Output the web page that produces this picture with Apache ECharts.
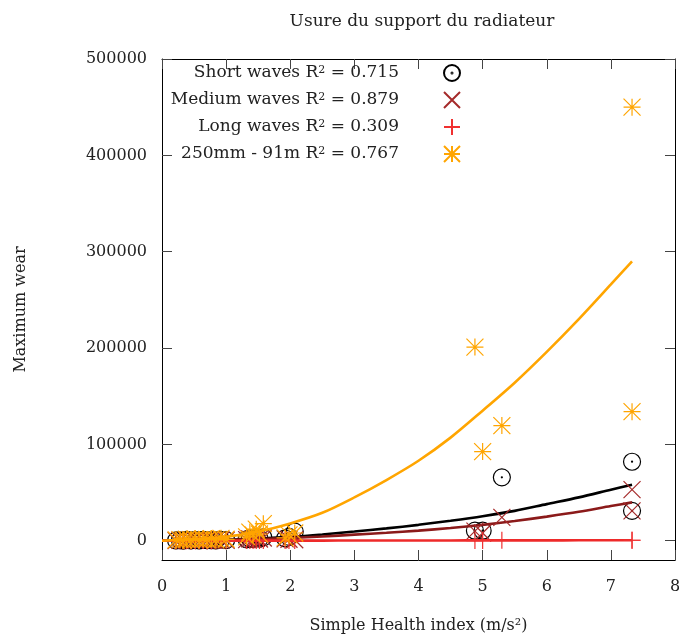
<!DOCTYPE html>
<html><head><meta charset="utf-8">
<script src="https://cdn.jsdelivr.net/npm/echarts@6/dist/echarts.min.js"></script>
<style>html,body{margin:0;padding:0;background:#fff}#c{width:679px;height:635px}</style>
</head><body><div id="c"></div>
<script>
// ---- data ----
const titleText = 'Usure du support du radiateur';
const xName = 'Simple Health index (m/s\u00b2)';
const yName = 'Maximum wear';
const seriesNames = ['Short waves', 'Medium waves', 'Long waves', '250mm - 91m'];
const rSquared = ['0.715', '0.879', '0.309', '0.767'];

const pointX = [0.22,0.28,0.33,0.38,0.45,0.52,0.58,0.64,0.70,0.77,0.84,0.92,1.00,
                1.32,1.37,1.42,1.47,1.52,1.58,1.92,1.98,2.07,4.88,5.00,5.30,7.33,7.33];
const shortY  = [300,500,200,800,400,600,300,900,500,700,400,1000,600,
                 1500,2500,1800,3000,2200,3500,2500,4000,9500,10400,10400,65800,82000,31000];
const mediumY = [200,400,150,600,300,500,250,700,400,600,300,800,500,
                 1200,2000,1500,2500,1800,2800,2000,1500,1000,10000,8000,24200,53000,31000];
const longY   = [50,80,40,100,60,90,50,120,70,100,60,130,80,
                 150,200,180,250,200,300,200,250,300,200,300,500,500,500];
const mixY    = [800,1200,600,1500,1000,2000,900,1800,1300,2200,1000,2500,1500,
                 4000,9000,6000,12000,7000,17700,3000,6000,8000,201000,92500,119500,450000,134000];

const fitX      = [0,0.5,1,1.5,2,2.5,3,3.5,4,4.5,5,5.5,6,6.5,7,7.33];
const shortFit  = [0,400,1000,2300,4000,6500,9500,12800,16500,20800,25500,31000,38000,45000,53000,58200];
const mediumFit = [0,300,700,1600,2800,4400,6300,8300,10500,13200,16500,20500,25000,30000,36000,39800];
const longFit   = [0,0,50,100,100,150,200,200,250,300,350,400,400,450,500,500];
const mixFit    = [0,1500,4000,9500,18000,29000,45000,63000,83000,107000,135000,164000,196000,230000,266000,290000];

const xTicks = [0,1,2,3,4,5,6,7,8];
const yTicks = [0,100000,200000,300000,400000,500000];
const xMin = 0, xMax = 8;
const yMin = -20000, yMax = 500000;

// ---- styling ----
const FONT = 'DejaVu Serif';
const pts = (ys) => pointX.map((x, i) => [x, ys[i]]);
const fit = (ys) => fitX.map((x, i) => [x, ys[i]]);
const SYM = {
  circle: 'path://M9,1A8,8,0,1,1,9,17A8,8,0,1,1,9,1ZM9,8.5A0.5,0.5,0,1,1,9,9.5A0.5,0.5,0,1,1,9,8.5Z',
  cross: 'path://M0,0L10,10M10,0L0,10',
  plus: 'path://M5,0L5,10M0,5L10,5',
  star: 'path://M5,0L5,10M0,5L10,5M0,0L10,10M10,0L0,10'
};
const colors = ['#000000', '#a52a2a', '#f03030', '#ffa500'];
const lineColors = ['#000000', '#8b1a1a', '#ee2a2a', '#ffa500'];
const symbols = [SYM.circle, SYM.cross, SYM.plus, SYM.star];
const pointData = [shortY, mediumY, longY, mixY];
const fitData = [shortFit, mediumFit, longFit, mixFit];

const series = [];
seriesNames.forEach((name, k) => {
  series.push({
    name: name, type: 'scatter', data: pts(pointData[k]),
    symbol: symbols[k], symbolSize: 17,
    itemStyle: { color: 'transparent', borderColor: colors[k], borderWidth: 1.2, opacity: 1 },
    emphasis: { disabled: true }, z: 2 + k
  });
  series.push({
    name: name + ' fit', type: 'line', data: fit(fitData[k]),
    showSymbol: false, smooth: 0.3,
    lineStyle: { color: lineColors[k], width: 2.6 },
    emphasis: { disabled: true }, z: 2 + k
  });
});

const tickText = { fontFamily: FONT, fontSize: 16, color: '#222' };
const nameText = { fontFamily: FONT, fontSize: 16, color: '#222' };
const bigText = { fontFamily: FONT, fontSize: 17, color: '#222' };
const tickStyle = (vals) => ({ inside: true, length: 10, customValues: vals, lineStyle: { color: '#444', width: 1 } });
const frameLine = { show: true, onZero: false, lineStyle: { color: '#000', width: 1 } };
const plain = (v) => String(v);

const chart = echarts.init(document.getElementById('c'), null, { renderer: 'canvas' });
chart.setOption({
  animation: false,
  backgroundColor: '#fff',
  title: {
    text: titleText, left: 417, top: 8, textAlign: 'center',
    textStyle: Object.assign({ fontWeight: 'normal' }, bigText)
  },
  grid: { left: 162, right: 4, top: 59, bottom: 75, containLabel: false, outerBoundsMode: 'none' },
  legend: {
    data: seriesNames, orient: 'vertical', align: 'right',
    right: 213, top: 59, itemWidth: 16, itemHeight: 16, itemGap: 9,
    formatter: (name) => {
      const r = rSquared[seriesNames.indexOf(name)];
      return '{t|' + name + ' R}{s|2}{t| = ' + r + '}{g|}';
    },
    textStyle: {
      rich: {
        t: bigText,
        s: { fontFamily: FONT, fontSize: 11, color: '#222', verticalAlign: 'top', padding: [0, 0, 6, 0] },
        g: { width: 40 }
      }
    }
  },
  xAxis: [{
    type: 'value', min: xMin, max: xMax,
    name: xName, nameLocation: 'middle', nameGap: 58, nameTextStyle: nameText,
    axisLine: frameLine, axisTick: tickStyle(xTicks), splitLine: { show: false },
    axisLabel: Object.assign({ margin: 19, customValues: xTicks, formatter: plain }, tickText)
  }, {
    type: 'value', position: 'top', min: xMin, max: xMax,
    axisLine: frameLine, axisTick: tickStyle(xTicks), splitLine: { show: false }, axisLabel: { show: false }
  }],
  yAxis: [{
    type: 'value', min: yMin, max: yMax,
    name: yName, nameLocation: 'middle', nameGap: 133, nameRotate: 90, nameTextStyle: nameText,
    axisLine: frameLine, axisTick: tickStyle(yTicks), splitLine: { show: false },
    axisLabel: Object.assign({ margin: 15, customValues: yTicks, formatter: plain }, tickText)
  }, {
    type: 'value', position: 'right', min: yMin, max: yMax,
    axisLine: frameLine, axisTick: tickStyle(yTicks), splitLine: { show: false }, axisLabel: { show: false }
  }],
  series: series
});
</script>
</body></html>
